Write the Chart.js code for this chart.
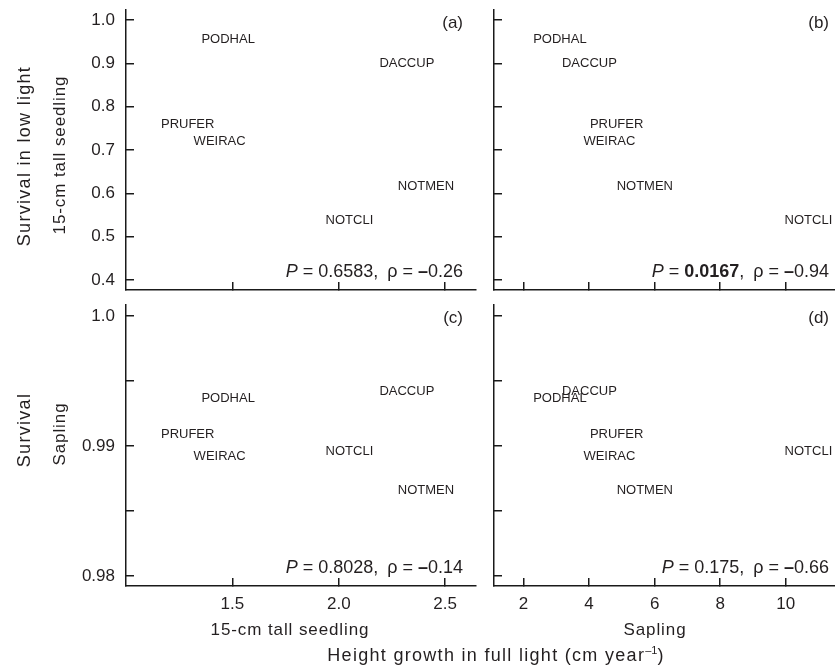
<!DOCTYPE html>
<html>
<head>
<meta charset="utf-8">
<script src="https://cdn.jsdelivr.net/npm/chart.js@4.4.1/dist/chart.umd.min.js"></script>
<style>
  html, body { margin: 0; padding: 0; background: #fff; }
  body { width: 835px; height: 669px; position: relative; overflow: hidden;
         font-family: "Liberation Sans", Arial, Helvetica, sans-serif; color: #231f20; }
  .panel { position: absolute; left: -100px; top: -100px; width: 1035px; height: 869px; }
  .lbl { position: absolute; white-space: nowrap; line-height: 1.2; transform: translate(-50%, -50%); }
  .rot { transform: translate(-50%, -50%) rotate(-90deg); }
  .big { font-size: 18px; letter-spacing: 1.3px; }
  .mid { font-size: 17px; letter-spacing: 0.9px; }
  sup { font-size: 11px; letter-spacing: 0; vertical-align: 7px; line-height: 0; }
</style>
</head>
<body>
<div class="panel"><canvas id="pa"></canvas></div>
<div class="panel"><canvas id="pb"></canvas></div>
<div class="panel"><canvas id="pc"></canvas></div>
<div class="panel"><canvas id="pd"></canvas></div>

<div class="lbl rot big" style="left:25px; top:156px;">Survival in low light</div>
<div class="lbl rot mid" style="left:60px; top:155px;">15-cm tall seedling</div>
<div class="lbl rot big" style="left:25px; top:430px;">Survival</div>
<div class="lbl rot mid" style="left:60px; top:434px;">Sapling</div>
<div class="lbl mid" style="left:290px; top:630px;">15-cm tall seedling</div>
<div class="lbl mid" style="left:655px; top:630px;">Sapling</div>
<div class="lbl big" style="left:496px; top:656px;">Height growth in full light (cm year<sup>–1</sup>)</div>

<script>
// species codes, same order in every array
const species = ['PODHAL', 'DACCUP', 'PRUFER', 'WEIRAC', 'NOTMEN', 'NOTCLI'];

// height growth in full light (cm / year)
const seedlingGrowth = [1.48, 2.32, 1.29, 1.44, 2.41, 2.05];
const saplingGrowth = [3.11, 4.01, 4.84, 4.62, 5.70, 10.69];

// survival in low light
const seedlingSurvival = [0.954, 0.900, 0.760, 0.719, 0.617, 0.537];
const saplingSurvival = [0.99367, 0.99423, 0.9909, 0.98918, 0.98656, 0.98962];

// ticks
const seedlingGrowthTicks = [1.5, 2.0, 2.5];
const seedlingGrowthTickLabels = ['1.5', '2.0', '2.5'];
const saplingGrowthTicks = [2, 4, 6, 8, 10];
const saplingGrowthTickLabels = ['2', '4', '6', '8', '10'];
const seedlingSurvivalTicks = [0.4, 0.5, 0.6, 0.7, 0.8, 0.9, 1.0];
const seedlingSurvivalTickLabels = ['0.4', '0.5', '0.6', '0.7', '0.8', '0.9', '1.0'];
const saplingSurvivalTicks = [0.98, 0.985, 0.99, 0.995, 1.0];
const saplingSurvivalTickLabels = ['0.98', '', '0.99', '', '1.0'];

// test results per panel (rho is negative everywhere)
const panelLetters = ['(a)', '(b)', '(c)', '(d)'];
const panelP = ['0.6583', '0.0167', '0.8028', '0.175'];
const panelPBold = [false, true, false, false];
const panelRho = ['0.26', '0.94', '0.14', '0.66'];

const FONT = '"Liberation Sans", Arial, Helvetica, sans-serif';
const INK = '#231f20';
const LINE = '#1a1a1a';

// where each plot area sits on the page
const layoutBoxes = [
  { L: 126, R: 476, T: 10,  B: 290, inset: 13 },
  { L: 494, R: 835, T: 10,  B: 290, inset: 6 },
  { L: 126, R: 476, T: 305, B: 586, inset: 13 },
  { L: 494, R: 835, T: 305, B: 586, inset: 6 }
];
const YW = 80, XH = 30;

const labelPlugin = {
  id: 'speciesLabels',
  afterDatasetsDraw(chart, args, opts) {
    const { ctx, chartArea, scales: { x, y } } = chart;
    ctx.save();
    ctx.fillStyle = INK;
    ctx.font = '13px ' + FONT;
    ctx.textAlign = 'center';
    ctx.textBaseline = 'middle';
    chart.data.datasets[0].data.forEach((p, i) => {
      ctx.fillText(species[i], x.getPixelForValue(p.x), y.getPixelForValue(p.y));
    });

    // panel letter
    ctx.font = '17px ' + FONT;
    ctx.textAlign = 'right';
    ctx.textBaseline = 'alphabetic';
    const rx = chartArea.right - opts.inset;
    ctx.fillText(opts.letter, rx, chartArea.top + 18);

    // P = ..., rho = ...
    const sz = '18px ';
    const parts = [
      { t: 'P', f: 'italic ' + sz + FONT },
      { t: ' = ', f: sz + FONT },
      { t: opts.p, f: (opts.bold ? 'bold ' : '') + sz + FONT },
      { t: ',\u2002ρ = ', f: sz + FONT },
      { t: '–', f: 'bold ' + sz + FONT },
      { t: opts.rho, f: sz + FONT }
    ];
    let total = 0;
    parts.forEach(pt => { ctx.font = pt.f; pt.w = ctx.measureText(pt.t).width; total += pt.w; });
    let cx = rx - total;
    ctx.textAlign = 'left';
    parts.forEach(pt => { ctx.font = pt.f; ctx.fillText(pt.t, cx, chartArea.bottom - 13); cx += pt.w; });
    ctx.restore();
  }
};

function makePanel(id, idx, xs, ys, xr, yr, xTicks, xLabels, yTicks, yLabels, showX, showY) {
  const box = layoutBoxes[idx];
  const axisCommon = {
    type: 'linear',
    border: { display: true, color: LINE, width: 1.5 },
    grid: { drawOnChartArea: false, drawTicks: true, tickLength: -8, color: LINE, lineWidth: 1.5 }
  };
  new Chart(document.getElementById(id), {
    type: 'scatter',
    data: {
      datasets: [{
        data: species.map((s, i) => ({ x: xs[i], y: ys[i] })),
        pointRadius: 0,
        pointHoverRadius: 0
      }]
    },
    options: {
      responsive: true,
      maintainAspectRatio: false,
      animation: false,
      events: [],
      layout: {
        padding: {
          left: box.L + 100 - YW,
          top: box.T + 100,
          right: 935 - box.R,
          bottom: 769 - box.B - XH
        }
      },
      plugins: {
        legend: { display: false },
        tooltip: { enabled: false },
        speciesLabels: {
          letter: panelLetters[idx], p: panelP[idx], bold: panelPBold[idx],
          rho: panelRho[idx], inset: box.inset
        }
      },
      scales: {
        x: Object.assign({}, axisCommon, {
          position: 'bottom',
          min: xr[0], max: xr[1],
          afterBuildTicks: s => { s.ticks = xTicks.map(v => ({ value: v })); },
          afterFit: s => { s.height = XH; },
          ticks: {
            display: showX, autoSkip: false, maxRotation: 0, padding: 16,
            color: INK, font: { family: FONT, size: 17 },
            callback: (v, i) => xLabels[i]
          }
        }),
        y: Object.assign({}, axisCommon, {
          position: 'left',
          min: yr[0], max: yr[1],
          afterBuildTicks: s => { s.ticks = yTicks.map(v => ({ value: v })); },
          afterFit: s => { s.width = YW; },
          ticks: {
            display: showY, autoSkip: false, padding: 19,
            color: INK, font: { family: FONT, size: 17 },
            callback: (v, i) => yLabels[i]
          }
        })
      }
    },
    plugins: [labelPlugin]
  });
}

const seedlingRange = [1.0, 2.645];
const saplingRange = [1.1, 11.5];
const seedSurvRange = [0.377, 1.023];
const sapSurvRange = [0.97923, 1.00085];

makePanel('pa', 0, seedlingGrowth, seedlingSurvival, seedlingRange, seedSurvRange,
  seedlingGrowthTicks, seedlingGrowthTickLabels, seedlingSurvivalTicks, seedlingSurvivalTickLabels, false, true);
makePanel('pb', 1, saplingGrowth, seedlingSurvival, saplingRange, seedSurvRange,
  saplingGrowthTicks, saplingGrowthTickLabels, seedlingSurvivalTicks, seedlingSurvivalTickLabels, false, false);
makePanel('pc', 2, seedlingGrowth, saplingSurvival, seedlingRange, sapSurvRange,
  seedlingGrowthTicks, seedlingGrowthTickLabels, saplingSurvivalTicks, saplingSurvivalTickLabels, true, true);
makePanel('pd', 3, saplingGrowth, saplingSurvival, saplingRange, sapSurvRange,
  saplingGrowthTicks, saplingGrowthTickLabels, saplingSurvivalTicks, saplingSurvivalTickLabels, true, false);
</script>
</body>
</html>
